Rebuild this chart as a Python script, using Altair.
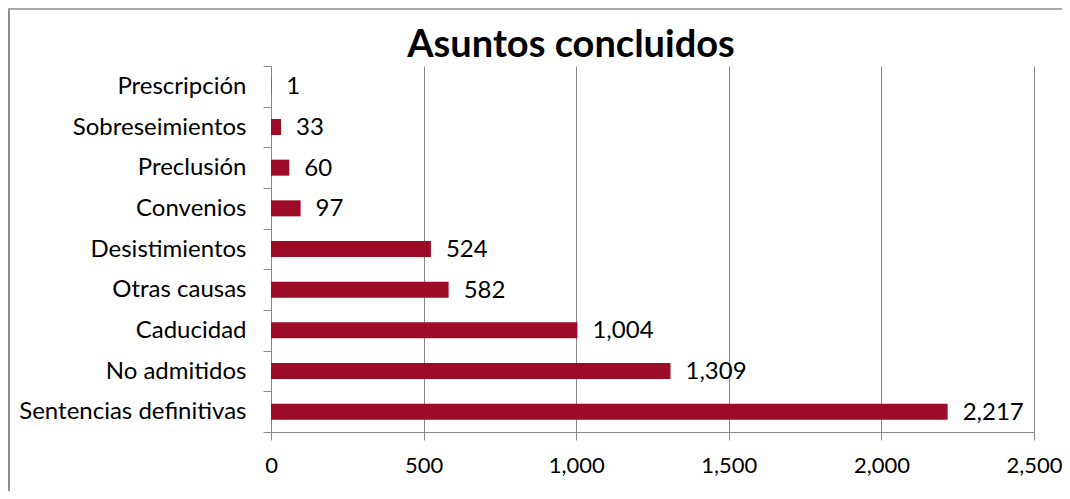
import altair as alt
import pandas as pd

categories = ["Prescripción", "Sobreseimientos", "Preclusión", "Convenios",
              "Desistimientos", "Otras causas", "Caducidad", "No admitidos",
              "Sentencias definitivas"]
values = [1, 33, 60, 97, 524, 582, 1004, 1309, 2217]
x_ticks = [0, 500, 1000, 1500, 2000, 2500]
title_text = "Asuntos concluidos"

df = pd.DataFrame({"cat": categories, "val": values})

FONT = "Lato"
GRAY = "#898989"
BAR = "#9C0B27"
W, H = 763, 366

y_enc = alt.Y("cat:N", sort=categories, title=None,
              scale=alt.Scale(paddingInner=0, paddingOuter=0),
              axis=alt.Axis(tickBand="extent", tickSize=8, tickColor=GRAY,
                            domainColor=GRAY, labelFont=FONT, labelFontSize=24,
                            labelColor="black", labelPadding=17, labelLimit=0,
                            grid=False))
x_enc = alt.X("val:Q", title=None,
              scale=alt.Scale(domain=[0, 2500], nice=False),
              axis=alt.Axis(values=x_ticks, format=",d", tickSize=8, tickColor=GRAY,
                            domainColor=GRAY, gridColor=GRAY, grid=True,
                            labelFont=FONT, labelFontSize=22, labelColor="black",
                            labelPadding=15, labelFlush=False))

bars = alt.Chart(df).mark_bar(size=16, color=BAR).encode(x=x_enc, y=y_enc)
labels = alt.Chart(df).mark_text(align="left", baseline="middle", dx=15, dy=1,
                                 font=FONT, fontSize=24, color="black").encode(
    x="val:Q", y=alt.Y("cat:N", sort=categories),
    text=alt.Text("val:Q", format=","))

title = alt.Chart(pd.DataFrame({"t": [title_text]})).mark_text(
    align="center", baseline="alphabetic", font=FONT, fontSize=38,
    fontWeight="bold", color="black").encode(
    text="t:N", x=alt.value(300), y=alt.value(-9))

left_border = alt.Chart(df).mark_rule(color="#8a8a8a", strokeWidth=1.5).encode(
    x=alt.value(-262.5), y=alt.value(-58), y2=alt.value(H + 59))
top_border = alt.Chart(df).mark_rule(color="#a6a6a6", strokeWidth=1.5).encode(
    x=alt.value(-263), x2=alt.value(W + 28), y=alt.value(-57.5))

chart = alt.layer(bars, labels, title, left_border, top_border).properties(
    width=W, height=H,
    autosize=alt.AutoSizeParams(type="none"),
    padding={"left": 263, "top": 58, "right": 28, "bottom": 59},
).configure_view(stroke=None)

chart.save("out.html", embed_options={"renderer": "svg", "actions": False})
